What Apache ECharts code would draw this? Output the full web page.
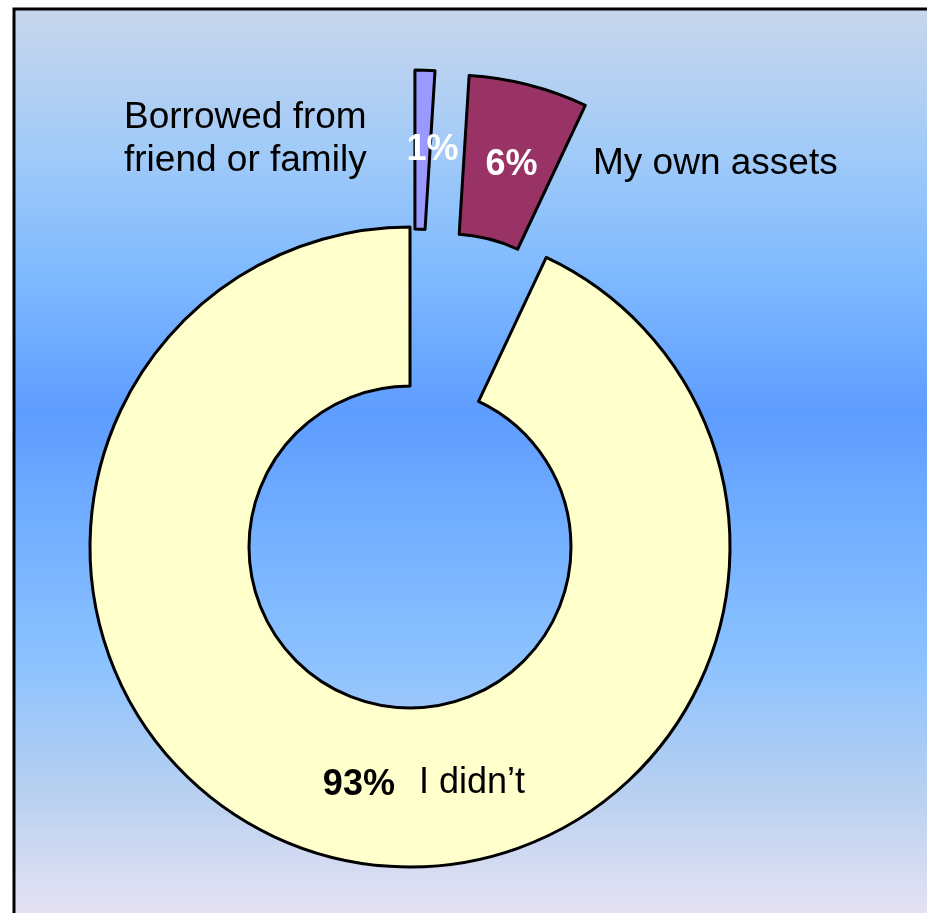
<!DOCTYPE html>
<html>
<head>
<meta charset="utf-8">
<script src="https://cdn.jsdelivr.net/npm/echarts@6/dist/echarts.min.js"></script>
<style>html,body{margin:0;padding:0;background:#fff;}#c{width:927px;height:913px;}</style>
</head>
<body>
<div id="c"></div>
<script>
const categories = ['Borrowed from\nfriend or family', 'My own assets', 'I didn\u2019t'];
const values = [1, 6, 93];
const percentLabels = ['1%', '6%', '93%'];
const colors = ['#9999ff', '#993366', '#ffffcc'];
const exploded = [true, true, false];

const chart = echarts.init(document.getElementById('c'), null, {renderer: 'canvas'});
const center = [410, 547];
const radius = [161, 320];

const mainData = values.map((v, i) => ({
  value: v, name: categories[i], selected: exploded[i],
  itemStyle: {color: colors[i]},
  label: {color: i < 2 ? '#ffffff' : '#000000'}
}));

const namePos = [[124, 139], [593, 164], [419, 783]];
const nameSize = [37, 37, 36];
const pctShift = [{dx: 10, dy: 3}, {dx: 2, dy: 6}, {dx: 2, dy: 0}];

const nameTexts = categories.map((c, i) => ({
  type: 'text', z: 10, silent: true,
  x: namePos[i][0], y: namePos[i][1],
  style: {
    text: c, fill: '#000',
    font: nameSize[i] + 'px "Liberation Sans", Arial, sans-serif',
    lineHeight: 43, align: 'left', verticalAlign: 'middle'
  }
}));

chart.setOption({
  animation: false,
  graphic: [{
    type: 'rect', z: -10, silent: true,
    shape: {x: 14, y: 9, width: 930, height: 920},
    style: {
      fill: new echarts.graphic.LinearGradient(0, 0, 0, 1, [
        {offset: 0, color: '#c8d6ec'},
        {offset: 0.16, color: '#a0caf8'},
        {offset: 0.3, color: '#7cb8ff'},
        {offset: 0.44, color: '#5e9cff'},
        {offset: 0.57, color: '#74b0ff'},
        {offset: 0.71, color: '#8cc2ff'},
        {offset: 0.85, color: '#b8d0f0'},
        {offset: 1, color: '#ece4f4'}
      ]),
      stroke: '#000', lineWidth: 3
    }
  }].concat(nameTexts),
  series: [{
    type: 'pie',
    center: center,
    radius: radius,
    startAngle: 90,
    clockwise: true,
    selectedMode: 'multiple',
    selectedOffset: 157,
    silent: true,
    avoidLabelOverlap: false,
    itemStyle: {borderColor: '#000', borderWidth: 3},
    emphasis: {disabled: true},
    label: {
      show: true, position: 'inside',
      formatter: p => percentLabels[p.dataIndex],
      fontFamily: 'Liberation Sans, Arial, sans-serif',
      fontSize: 36, fontWeight: 'bold'
    },
    labelLayout: p => pctShift[p.dataIndex],
    labelLine: {show: false},
    data: mainData
  }]
});
</script>
</body>
</html>
